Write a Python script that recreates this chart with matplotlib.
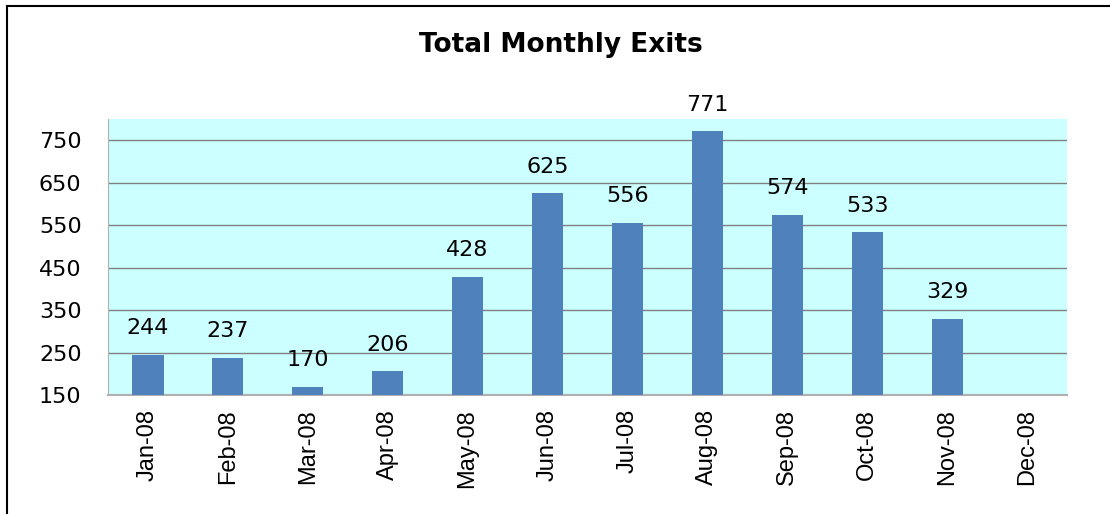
import matplotlib.pyplot as plt
from matplotlib.lines import Line2D

months = ['Jan-08', 'Feb-08', 'Mar-08', 'Apr-08', 'May-08', 'Jun-08',
          'Jul-08', 'Aug-08', 'Sep-08', 'Oct-08', 'Nov-08', 'Dec-08']
exits = [244, 237, 170, 206, 428, 625, 556, 771, 574, 533, 329, None]
yticks = [150, 250, 350, 450, 550, 650, 750]

fig = plt.figure(figsize=(11.1, 5.14), dpi=100)
ax = fig.add_axes([108/1110, 1-395/514, (1067-108)/1110, (395-119)/514])
ax.set_facecolor('#CCFFFF')

x = list(range(len(months)))
vals = [v if v is not None else 0 for v in exits]
bars = ax.bar(x, vals, width=0.39, color='#4F81BD', zorder=3)
for xi, v in zip(x, exits):
    if v is not None:
        ax.annotate(str(v), (xi, v), xytext=(0, 12), textcoords='offset points',
                    ha='center', va='bottom', fontsize=16,
                    family='DejaVu Sans', zorder=4)

ax.set_xlim(-0.5, 11.5)
ax.set_ylim(150, 800)
ax.set_yticks(yticks)
ax.set_yticklabels([str(t) for t in yticks], fontsize=16, family='DejaVu Sans')
ax.yaxis.grid(True, color='#808080', linewidth=1, zorder=1)
ax.set_xticks(x)
ax.set_xticklabels(months, rotation=90, fontsize=17, family='Liberation Sans')
ax.tick_params(axis='both', length=0)
ax.tick_params(axis='y', pad=19)
ax.tick_params(axis='x', pad=10)
for s in ['top', 'right']:
    ax.spines[s].set_visible(False)
ax.spines['left'].set_color('#B0B0B0')
ax.spines['bottom'].set_color('#B0B0B0')
ax.spines['bottom'].set_linewidth(1.5)

fig.text(0.505, 1-45/514, 'Total Monthly Exits', ha='center', va='center',
         fontsize=19, fontweight='bold', family='DejaVu Sans')

# frame lines
fig.add_artist(Line2D([7/1110, 1], [1-6/514, 1-6/514], color='black', lw=1.5,
                      transform=fig.transFigure))
fig.add_artist(Line2D([7/1110, 7/1110], [0, 1-6/514], color='black', lw=1.5,
                      transform=fig.transFigure))

fig.savefig('out.png', dpi=100)
